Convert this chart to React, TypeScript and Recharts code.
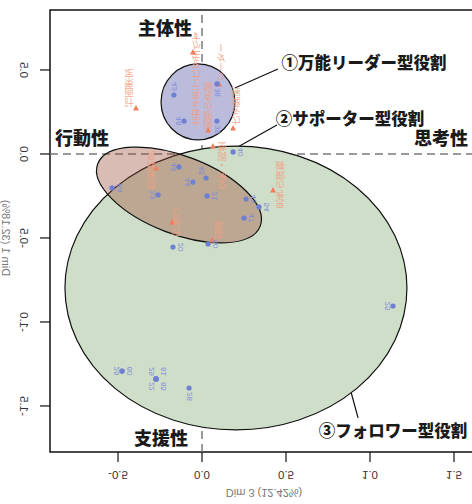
import React from 'react'
import { ScatterChart, Scatter, XAxis, YAxis, ReferenceLine, ReferenceArea } from 'recharts'

// plot frame (the right edge of the box is cut by the window, as in the source)
const X_MIN = -0.905
const X_MAX = 1.643
const Y_MIN = -1.774
const Y_MAX = 0.857
const CHART_W = 480
const CHART_H = 504
const PLOT_W = 428
const PX = PLOT_W / (X_MAX - X_MIN) // px per unit, same on both axes

const xTicks = [-0.5, 0, 0.5, 1, 1.5]
const yTicks = [0.5, 0, -0.5, -1, -1.5]

// role ellipses: follower, supporter, all-round leader (drawn in this order)
const ellipseX = [0.202, -0.137, -0.024]
const ellipseY = [-0.798, -0.244, 0.31]
const ellipseRx = [1.018, 0.518, 0.22]
const ellipseRy = [0.845, 0.232, 0.226]
const ellipseAngle = [0, -21, 0]
const ellipseFill = ['#cfdec8', 'rgba(155,78,58,0.38)', '#bbbbdc']

// individuals (blue)
const pointNames = ['43', '38', '39', '46', '40', '48', '45', '44', '84', '23', '21', '49', '54', '47', '20', '50', '25', '26', '60', '29', '61', '22', '65', '28']
const pointX = [-0.167, 0.089, 0.089, -0.107, 0.185, -0.137, 0.024, -0.054, -0.536, -0.262, 0.03, 0.262, 0.339, 0.25, -0.173, 0.036, 1.137, -0.476, -0.476, -0.274, -0.274, -0.274, -0.274, -0.077]
const pointY = [0.351, 0.417, 0.196, 0.196, 0.012, -0.077, -0.143, -0.167, -0.202, -0.244, -0.25, -0.268, -0.315, -0.381, -0.554, -0.536, -0.905, -1.292, -1.292, -1.339, -1.339, -1.339, -1.339, -1.393]
const pointLabelSide = ['a', 'b', 'b', 'l', 'r', 'l', 'lu', 'l', 'r', 'l', 'r', 'r', 'r', 'r', 'r', 'r', 'l', 'l', 'r', 'lu', 'ru', 'ld', 'rd', 'b']

// variables (orange)
const varNames = ['計画策定', '全体を見て力を生かす', '課題の克服', 'リーダー', '力を発揮', '交渉・調整', '問題発見', '行動力', '協調', '思考の鍛錬']
const varX = [-0.393, -0.054, 0.036, 0.101, 0.185, 0.065, -0.274, -0.179, 0.06, 0.423]
const varY = [0.274, 0.607, 0.143, 0.417, 0.155, 0.048, -0.083, -0.405, -0.512, -0.214]
const varLabelOffset = [[-7, -20], [3, 27], [0, -24], [2, -22], [3, -22], [9, 20], [-5, 2], [4, 0], [6, -10], [7, -5]]

const ellipses = ellipseX.map((x, i) => ({ x, y: ellipseY[i], rx: ellipseRx[i], ry: ellipseRy[i], angle: ellipseAngle[i], fill: ellipseFill[i] }))
const points = pointNames.map((name, i) => ({ name, x: pointX[i], y: pointY[i], side: pointLabelSide[i] }))
const vars = varNames.map((name, i) => ({ name, x: varX[i], y: varY[i], off: varLabelOffset[i] }))

const BASE_FONT = '"Liberation Sans", Arial, sans-serif'
const JP_FONT = '"Noto Sans CJK JP", "Noto Sans", sans-serif'

function EllipseShape(props: any) {
  const { cx, cy, payload } = props
  return (
    <ellipse
      cx={cx} cy={cy} rx={payload.rx * PX} ry={payload.ry * PX}
      transform={`rotate(${-payload.angle} ${cx} ${cy})`}
      fill={payload.fill} stroke="#111" strokeWidth={1.2}
    />
  )
}

function PointShape(props: any) {
  const { cx, cy, payload } = props
  let tx = cx - 3, ty = cy, anchor = 'middle'
  switch (payload.side) {
    case 'r': tx = cx + 10; break
    case 'a': tx = cx + 3; ty = cy - 4; anchor = 'end'; break
    case 'b': tx = cx + 3; ty = cy + 4; anchor = 'start'; break
    case 'lu': tx = cx - 2; ty = cy - 3; anchor = 'end'; break
    case 'ru': tx = cx + 10; ty = cy - 3; anchor = 'end'; break
    case 'ld': tx = cx - 2; ty = cy + 3; anchor = 'start'; break
    case 'rd': tx = cx + 10; ty = cy + 3; anchor = 'start'; break
  }
  return (
    <g>
      <circle cx={cx} cy={cy} r={2.6} fill="#6f80d2" />
      <text
        transform={`translate(${tx},${ty}) rotate(90) scale(1,-1)`}
        textAnchor={anchor} fontSize={8} fill="#7f8ed8" fontFamily={BASE_FONT}
      >{payload.name}</text>
    </g>
  )
}

function VarShape(props: any) {
  const { cx, cy, payload } = props
  const [dx, dy] = payload.off
  return (
    <g>
      <text
        transform={`translate(${cx + dx},${cy + dy}) scale(1,-1)`}
        textAnchor="middle" fontSize={9.5} fill="#f0a085" fillOpacity={0.9} fontFamily={JP_FONT}
        style={{ writingMode: 'vertical-rl' }}
      >{payload.name}</text>
      <path d={`M${cx},${cy - 3} L${cx + 3},${cy + 2.5} L${cx - 3},${cy + 2.5} Z`} fill="#ee8060" />
    </g>
  )
}

function XTick(props: any) {
  const { x, payload } = props
  return (
    <text transform={`translate(${x},471) scale(1,-1)`} textAnchor="middle" fontSize={11.5} fill="#333" fontFamily={BASE_FONT}>
      {payload.value.toFixed(1)}
    </text>
  )
}

function YTick(props: any) {
  const { y, payload } = props
  return (
    <text transform={`translate(20,${y}) rotate(-90) scale(1,-1)`} textAnchor="middle" fontSize={11.5} fill="#333" fontFamily={BASE_FONT}>
      {payload.value.toFixed(1)}
    </text>
  )
}

const jpStyle = (x: number, y: number, size: number): React.CSSProperties => ({
  position: 'absolute', left: x, top: y, transform: 'translate(-50%,-50%)',
  fontFamily: JP_FONT, fontWeight: 900, fontSize: size, lineHeight: 1, whiteSpace: 'nowrap', color: '#1a1a1a',
})

export default function App() {
  return (
    <div style={{ position: 'absolute', left: 0, top: 0, width: 472, height: 504, overflow: 'hidden', background: '#fff' }}>
      <ScatterChart width={CHART_W} height={CHART_H} margin={{ top: 10, right: 2, bottom: 0, left: 0 }}>
        <XAxis
          type="number" dataKey="x" domain={[X_MIN, X_MAX]} ticks={xTicks} allowDataOverflow
          height={52} axisLine={false} tickSize={10} tickLine={{ stroke: '#111', strokeWidth: 1.2 }} tick={<XTick />}
        />
        <YAxis
          type="number" dataKey="y" domain={[Y_MIN, Y_MAX]} ticks={yTicks} allowDataOverflow
          width={50} axisLine={false} tickSize={10} tickLine={{ stroke: '#111', strokeWidth: 1.2 }} tick={<YTick />}
        />
        <Scatter data={ellipses} shape={<EllipseShape />} isAnimationActive={false} />
        <ReferenceLine y={0} stroke="#7a7a7a" strokeWidth={1.5} strokeDasharray="8 5" />
        <ReferenceLine x={0} stroke="#7a7a7a" strokeWidth={1.5} strokeDasharray="8 5" />
        <ReferenceLine segment={[{ x: 0.196, y: 0.393 }, { x: 0.452, y: 0.506 }]} stroke="#111" strokeWidth={1.2} />
        <ReferenceLine segment={[{ x: 0.446, y: 0.173 }, { x: 0.012, y: -0.071 }]} stroke="#111" strokeWidth={1.2} />
        <ReferenceLine segment={[{ x: 0.929, y: -1.571 }, { x: 0.887, y: -1.417 }]} stroke="#111" strokeWidth={1.2} />
        <Scatter data={vars} shape={<VarShape />} isAnimationActive={false} />
        <Scatter data={points} shape={<PointShape />} isAnimationActive={false} />
        <ReferenceArea x1={X_MIN} x2={X_MAX} y1={Y_MIN} y2={Y_MAX} fill="none" fillOpacity={0} stroke="#111" strokeWidth={1.5} />
      </ScatterChart>

      <div style={jpStyle(165, 27, 18)}>主体性</div>
      <div style={jpStyle(82, 137, 18)}>行動性</div>
      <div style={jpStyle(441, 137, 18)}>思考性</div>
      <div style={jpStyle(161, 437, 18)}>支援性</div>
      <div style={jpStyle(364, 62, 16.5)}>①万能リーダー型役割</div>
      <div style={jpStyle(350, 118, 16.5)}>②サポーター型役割</div>
      <div style={jpStyle(393, 430, 16.5)}>③フォロワー型役割</div>

      <div style={{ position: 'absolute', left: 264, top: 493, transform: 'translate(-50%,-50%) scaleY(-1)', fontFamily: BASE_FONT, fontSize: 11, color: '#777', whiteSpace: 'nowrap' }}>
        Dim 3 (12.42%)
      </div>
      <div style={{ position: 'absolute', left: 6, top: 238, transform: 'translate(-50%,-50%) rotate(-90deg) scaleY(-1)', fontFamily: BASE_FONT, fontSize: 11, color: '#777', whiteSpace: 'nowrap' }}>
        Dim 1 (32.18%)
      </div>
    </div>
  )
}
